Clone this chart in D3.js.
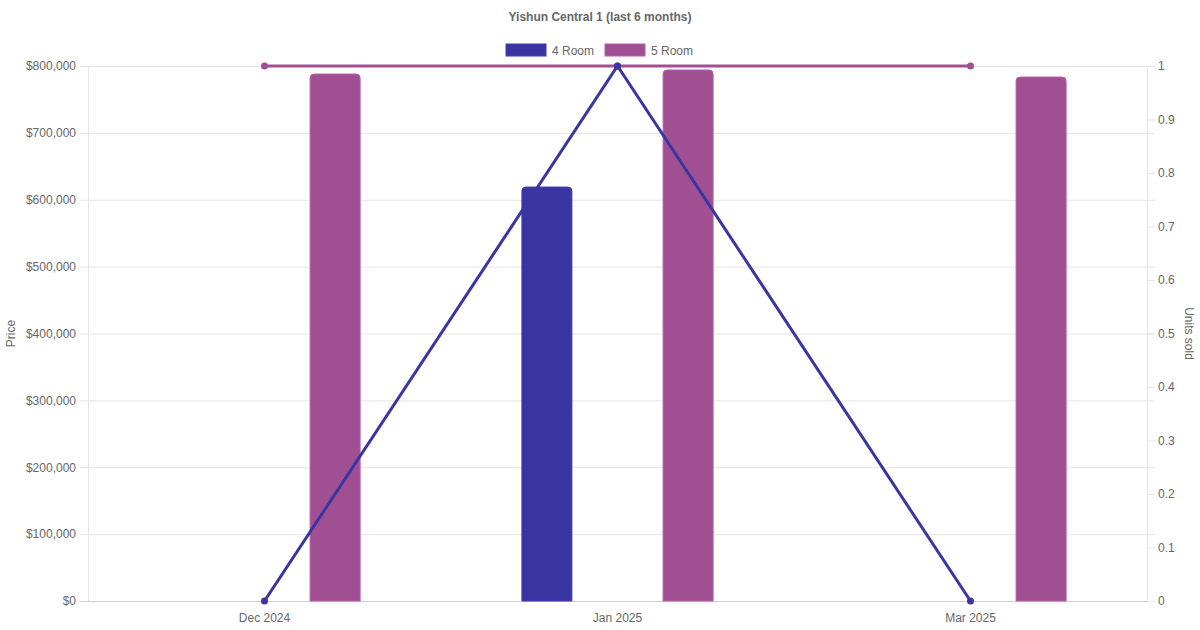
<!DOCTYPE html>
<html>
<head>
<meta charset="utf-8">
<script src="https://cdn.jsdelivr.net/npm/d3@7"></script>
<style>
  body { margin: 0; background: white; }
  svg { font-family: "Liberation Sans", Arial, sans-serif; }
</style>
</head>
<body>
<div id="chart-area"></div>
<script>
// data
const months = ["Dec 2024", "Jan 2025", "Mar 2025"]
const seriesNames = ["4 Room", "5 Room"]
const colors = ["#3a35a0", "#a05092"]
const priceValues = [
    [null, 619000, null],      // 4 Room
    [788000, 794000, 783500]   // 5 Room
]
const unitsValues = [
    [0, 1, 0],  // 4 Room
    [1, 1, 1]   // 5 Room
]
const priceTicks = [0, 100000, 200000, 300000, 400000, 500000, 600000, 700000, 800000]
const unitTicks = [0, 0.1, 0.2, 0.3, 0.4, 0.5, 0.6, 0.7, 0.8, 0.9, 1]

const W = 1200, H = 630
const margin = {left: 88, right: 53, top: 66, bottom: 29}
const width = W - margin.left - margin.right,
    height = H - margin.top - margin.bottom

const svg = d3.select("#chart-area").append("svg")
    .attr("width", W)
    .attr("height", H)

const g = svg.append("g")
    .attr("transform", `translate(${margin.left}, ${margin.top})`)

// scales
const x = d3.scaleBand().domain(months).range([0, width])
// bars take 80% of each category, split between the two series
const xSub = d3.scaleBand().domain(seriesNames).range([0.1 * x.bandwidth(), 0.9 * x.bandwidth()])
const y = d3.scaleLinear().domain([0, 800000]).range([height, 0])
const y2 = d3.scaleLinear().domain([0, 1]).range([height, 0])

// grid
g.append("g")
    .selectAll("line")
    .data(priceTicks)
    .join("line")
    .attr("x1", -8)
    .attr("x2", width + 8)
    .attr("y1", d => y(d) + 0.5)
    .attr("y2", d => y(d) + 0.5)
    .attr("stroke", d => d === 0 ? "#cccccc" : "#e5e5e5")

// left axis
const yAxisCall = d3.axisLeft(y)
    .tickValues(priceTicks)
    .tickSize(0)
    .tickPadding(12)
    .tickFormat(d => "$" + d3.format(",")(d))
const yAxis = g.append("g").call(yAxisCall)
yAxis.select(".domain").remove()
g.append("line")
    .attr("x1", 0.5).attr("x2", 0.5)
    .attr("y1", 0).attr("y2", height)
    .attr("stroke", "#e5e5e5")

// right axis
const y2AxisCall = d3.axisRight(y2)
    .tickValues(unitTicks)
    .tickSize(8)
    .tickPadding(3)
    .tickFormat(d3.format("~g"))
const y2Axis = g.append("g")
    .attr("transform", `translate(${width}, 0)`)
    .call(y2AxisCall)
y2Axis.select(".domain").attr("stroke", "#e5e5e5").attr("d", `M0.5,0V${height}`)
y2Axis.selectAll(".tick line").attr("stroke", "#e5e5e5")

// x axis labels
const xAxisCall = d3.axisBottom(x).tickSize(0).tickPadding(12)
const xAxis = g.append("g")
    .attr("transform", `translate(0, ${height})`)
    .call(xAxisCall)
xAxis.select(".domain").remove()

g.selectAll(".tick text")
    .attr("fill", "#666666")
    .attr("font-size", "12px")
    .attr("font-family", "Liberation Sans, Arial, sans-serif")

// bars
const barW = 50
const barData = []
seriesNames.forEach((s, si) => {
    months.forEach((m, mi) => {
        const v = priceValues[si][mi]
        if (v != null) barData.push({series: s, si, month: m, value: v})
    })
})

const topRounded = (x0, y0, w, h, r) =>
    `M${x0},${y0 + h}V${y0 + r}Q${x0},${y0} ${x0 + r},${y0}H${x0 + w - r}Q${x0 + w},${y0} ${x0 + w},${y0 + r}V${y0 + h}Z`

g.append("g")
    .selectAll("path")
    .data(barData)
    .join("path")
    .attr("d", d => {
        const cx = x(d.month) + xSub(d.series) + xSub.bandwidth() / 2
        const top = y(d.value)
        return topRounded(cx - barW / 2, top, barW, height - top, 4)
    })
    .attr("fill", d => colors[d.si])
    .attr("stroke", d => d3.color(colors[d.si]).brighter(0.4))
    .attr("stroke-width", 1)

// lines
const line = d3.line()
    .x((d, i) => x(months[i]) + x.bandwidth() / 2)
    .y(d => y2(d))

// draw 5 Room first so 4 Room sits on top
;[1, 0].forEach(si => {
    g.append("path")
        .datum(unitsValues[si])
        .attr("d", line)
        .attr("fill", "none")
        .attr("stroke", colors[si])
        .attr("stroke-width", 3)
    g.append("g")
        .selectAll("circle")
        .data(unitsValues[si])
        .join("circle")
        .attr("cx", (d, i) => x(months[i]) + x.bandwidth() / 2)
        .attr("cy", d => y2(d))
        .attr("r", 3.5)
        .attr("fill", colors[si])
})

// title
svg.append("text")
    .attr("x", W / 2)
    .attr("y", 21)
    .attr("text-anchor", "middle")
    .attr("font-size", "12px")
    .attr("font-weight", "bold")
    .attr("fill", "#666666")
    .text("Yishun Central 1 (last 6 months)")

// legend
const legendX = [506, 605]
seriesNames.forEach((s, i) => {
    svg.append("rect")
        .attr("x", legendX[i])
        .attr("y", 44)
        .attr("width", 40)
        .attr("height", 12)
        .attr("fill", colors[i])
        .attr("stroke", d3.color(colors[i]).brighter(0.4))
    svg.append("text")
        .attr("x", legendX[i] + 46)
        .attr("y", 54.5)
        .attr("font-size", "12px")
        .attr("fill", "#666666")
        .text(s)
})

// axis titles
svg.append("text")
    .attr("transform", `translate(15, ${margin.top + height / 2}) rotate(-90)`)
    .attr("text-anchor", "middle")
    .attr("font-size", "12px")
    .attr("fill", "#666666")
    .text("Price")

svg.append("text")
    .attr("transform", `translate(1185, ${margin.top + height / 2}) rotate(90)`)
    .attr("text-anchor", "middle")
    .attr("font-size", "12px")
    .attr("fill", "#666666")
    .text("Units sold")
</script>
</body>
</html>
